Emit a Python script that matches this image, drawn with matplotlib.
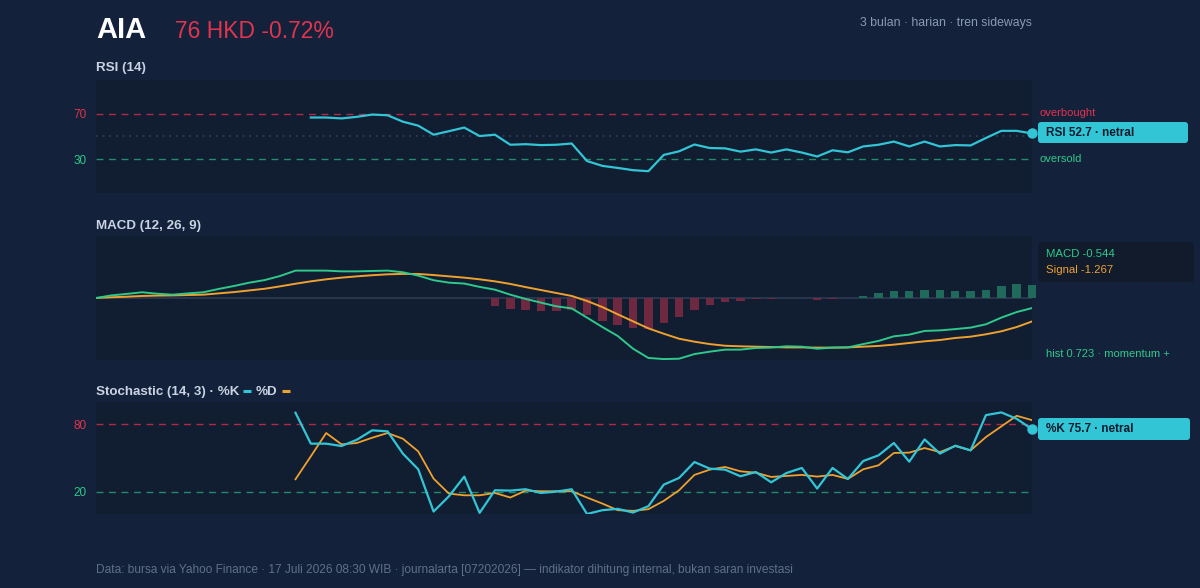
import matplotlib
matplotlib.use("Agg")
import matplotlib.pyplot as plt
import numpy as np
from matplotlib.patches import FancyBboxPatch
from matplotlib.lines import Line2D

plt.rcParams['font.family'] = ['Liberation Sans', 'DejaVu Sans']

# ---------------- data ----------------
ticker = "AIA"
price_text = "76 HKD -0.72%"
subtitle = "3 bulan · harian · tren sideways"
footer = ("Data: bursa via Yahoo Finance · 17 Juli 2026 08:30 WIB · journalarta [07202026] — "
          "indikator dihitung internal, bukan saran investasi")

days = list(range(62))

rsi = [None] * 14 + [66.8, 66.8, 66.0, 67.4, 69.4, 68.8, 63.1, 59.6, 51.6, 54.7,
                     57.9, 50.4, 51.6, 42.7, 43.2, 42.4, 42.7, 43.8, 28.3, 24.0,
                     22.2, 20.2, 19.3, 33.7, 36.9, 42.9, 39.8, 39.5, 36.6, 38.6,
                     35.8, 38.6, 35.8, 32.3, 37.8, 36.0, 41.2, 42.7, 45.5, 41.2,
                     45.5, 41.2, 42.4, 42.1, 48.7, 55.0, 55.0, 52.7]
rsi_levels = [70, 30]

macd = [0.0, 0.14, 0.22, 0.31, 0.23, 0.18, 0.25, 0.31, 0.49, 0.65,
        0.83, 0.97, 1.19, 1.48, 1.48, 1.48, 1.44, 1.44, 1.46, 1.48,
        1.39, 1.21, 0.96, 0.83, 0.78, 0.60, 0.45, 0.18, -0.05, -0.25,
        -0.45, -0.56, -1.06, -1.57, -2.05, -2.74, -3.24, -3.30, -3.28, -3.03,
        -2.90, -2.79, -2.79, -2.70, -2.68, -2.61, -2.63, -2.74, -2.68, -2.67,
        -2.49, -2.32, -2.07, -1.98, -1.78, -1.75, -1.68, -1.60, -1.42, -1.06,
        -0.76, -0.544]
signal = [0.0, 0.04, 0.07, 0.11, 0.13, 0.14, 0.16, 0.18, 0.25, 0.32,
          0.41, 0.50, 0.63, 0.77, 0.90, 1.01, 1.10, 1.17, 1.23, 1.28,
          1.30, 1.30, 1.24, 1.17, 1.10, 1.01, 0.90, 0.76, 0.59, 0.43,
          0.27, 0.11, -0.16, -0.49, -0.88, -1.26, -1.64, -1.93, -2.20, -2.36,
          -2.49, -2.58, -2.61, -2.63, -2.65, -2.67, -2.67, -2.68, -2.68, -2.67,
          -2.63, -2.59, -2.52, -2.43, -2.34, -2.27, -2.16, -2.09, -1.96, -1.80,
          -1.57, -1.267]
hist = [None] * 26 + [-0.43, -0.59, -0.67, -0.70, -0.68, -0.67, -0.94, -1.24, -1.46, -1.62,
                      -1.68, -1.37, -1.05, -0.63, -0.40, -0.22, -0.16, -0.07, -0.05, -0.02,
                      -0.01, -0.09, -0.04, 0.01, 0.11, 0.25, 0.38, 0.38, 0.45, 0.41,
                      0.40, 0.36, 0.45, 0.65, 0.74, 0.723]

stoch_k = [None] * 13 + [90.4, 62.8, 62.8, 60.7, 66.3, 74.7, 73.8, 53.9, 39.9, 2.2,
                         15.8, 33.4, 1.0, 21.2, 20.9, 22.1, 18.8, 20.0, 22.1, 0.0,
                         3.4, 4.6, 1.3, 7.0, 26.2, 32.2, 46.4, 40.5, 39.6, 33.7,
                         37.5, 28.3, 36.6, 41.1, 22.7, 41.1, 31.3, 47.3, 52.4, 63.4,
                         46.7, 66.6, 53.9, 61.0, 56.8, 88.3, 90.7, 85.0, 75.7]
stoch_d = [None] * 13 + [31.0, 51.5, 72.3, 62.2, 63.4, 68.1, 72.3, 67.2, 55.9, 31.6,
                         18.2, 16.7, 16.7, 18.8, 14.7, 20.9, 20.3, 20.3, 20.3, 14.7,
                         9.3, 3.4, 2.8, 4.3, 11.7, 21.2, 34.9, 39.6, 42.0, 38.1,
                         36.9, 33.1, 34.0, 34.9, 33.4, 34.9, 31.3, 39.9, 43.5, 54.5,
                         54.8, 58.9, 55.3, 60.7, 56.8, 68.7, 78.2, 87.7, 83.8]
stoch_levels = [80, 20]

# ---------------- style ----------------
BG = "#14213a"
PANEL = "#111d30"
CYAN = "#32c5d6"
GREEN = "#2ec98b"
ORANGE = "#eea12f"
RED = "#e0344f"
RED_LINE = "#b22a45"
GREEN_LINE = "#248c6c"
TITLE = "#c9d3e3"
MUTED = "#8b9ab3"
FOOT = "#5f7089"

W, H = 1200, 588
fig = plt.figure(figsize=(12, 5.88), dpi=100, facecolor=BG)

X0, X1 = 96, 1032


def panel(y_top, y_bot):
    ax = fig.add_axes([X0 / W, 1 - y_bot / H, (X1 - X0) / W, (y_bot - y_top) / H])
    ax.set_facecolor(PANEL)
    for s in ax.spines.values():
        s.set_visible(False)
    ax.set_xlim(days[0], days[-1])
    ax.tick_params(axis='x', bottom=False, labelbottom=False)
    ax.tick_params(axis='y', left=False, length=0, labelsize=8.5, pad=7)
    return ax


def arr(v):
    return np.array([np.nan if a is None else a for a in v], dtype=float)


x = np.array(days)

# RSI
ax1 = panel(80, 193)
ax1.set_ylim(0, 100)
ax1.axhline(rsi_levels[0], color=RED_LINE, lw=1, ls=(0, (5, 4)))
ax1.axhline(rsi_levels[1], color=GREEN_LINE, lw=1, ls=(0, (5, 4)))
ax1.axhline(50, color="#34425a", lw=1.2, ls=(0, (1, 3)))
r = arr(rsi)
ax1.plot(x, r, color=CYAN, lw=1.6)
ax1.plot([x[-1]], [r[-1]], 'o', color=CYAN, ms=6.5, clip_on=False)
ax1.set_yticks(rsi_levels)
ax1.set_yticklabels([str(v) for v in rsi_levels])
ax1.get_yticklabels()[0].set_color(RED)
ax1.get_yticklabels()[1].set_color(GREEN)

# MACD
ax2 = panel(236, 360)
ax2.set_ylim(-3.35, 3.35)
ax2.axhline(0, color="#2d3a52", lw=1.2)
h = arr(hist)
cols = ["#6e2940" if (not np.isnan(v) and v < 0) else "#1f6a5a" for v in h]
ax2.bar(x, np.nan_to_num(h), width=0.55, color=cols, clip_on=False, zorder=2)
ax2.plot(x, arr(signal), color=ORANGE, lw=1.4, zorder=3)
ax2.plot(x, arr(macd), color=GREEN, lw=1.4, zorder=4)
ax2.set_yticks([])

# Stochastic
ax3 = panel(402, 514)
ax3.set_ylim(0, 100)
ax3.axhline(stoch_levels[0], color=RED_LINE, lw=1, ls=(0, (5, 4)))
ax3.axhline(stoch_levels[1], color=GREEN_LINE, lw=1, ls=(0, (5, 4)))
ax3.plot(x, arr(stoch_d), color=ORANGE, lw=1.3)
k = arr(stoch_k)
ax3.plot(x, k, color=CYAN, lw=1.6)
ax3.plot([x[-1]], [k[-1]], 'o', color=CYAN, ms=6.5, clip_on=False)
ax3.set_yticks(stoch_levels)
ax3.set_yticklabels([str(v) for v in stoch_levels])
ax3.get_yticklabels()[0].set_color(RED)
ax3.get_yticklabels()[1].set_color(GREEN)

# ---------------- overlay texts ----------------
ov = fig.add_axes([0, 0, 1, 1], facecolor='none', zorder=10)
ov.set_xlim(0, W)
ov.set_ylim(H, 0)
ov.axis('off')

ov.text(96, 38, ticker, color="white", fontsize=21, fontweight='bold', va='baseline')
ov.text(175, 38, price_text, color=RED, fontsize=16.5, va='baseline')
ov.text(1032, 26, subtitle, color=MUTED, fontsize=8.8, ha='right', va='baseline')

TS = 9.6
ov.text(96, 71, "RSI (14)", color=TITLE, fontsize=TS, fontweight='bold', va='baseline')
ov.text(96, 229, "MACD (12, 26, 9)", color=TITLE, fontsize=TS, fontweight='bold', va='baseline')
t = ov.text(96, 395, "Stochastic (14, 3) · %K", color=TITLE, fontsize=TS, fontweight='bold',
            va='baseline')
fig.canvas.draw()
inv = ov.transData.inverted()
bb = t.get_window_extent()
xe = inv.transform((bb.x1, bb.y0))[0]
ov.add_line(Line2D([xe + 4, xe + 12], [391, 391], color=CYAN, lw=2.2, solid_capstyle='butt'))
t2 = ov.text(xe + 16, 395, "%D", color=TITLE, fontsize=TS, fontweight='bold', va='baseline')
fig.canvas.draw()
bb2 = t2.get_window_extent()
xe2 = inv.transform((bb2.x1, bb2.y0))[0]
ov.add_line(Line2D([xe2 + 5, xe2 + 13], [391, 391], color=ORANGE, lw=2.2, solid_capstyle='butt'))

ov.text(96, 573, footer, color=FOOT, fontsize=8.6, va='baseline')

# right side labels
ov.text(1040, 113, "overbought", color=RED, fontsize=8, va='center')
ov.text(1040, 159, "oversold", color=GREEN, fontsize=8, va='center')


def badge(x0, y0, x1, y1, fc):
    p = FancyBboxPatch((x0, y0), x1 - x0, y1 - y0,
                       boxstyle="round,pad=0,rounding_size=3", fc=fc, ec='none')
    ov.add_patch(p)


badge(1038, 122, 1188, 143, CYAN)
ov.text(1046, 132.5, f"RSI {rsi[-1]} · netral", color="#0f1b2d", fontsize=8.5,
        fontweight='bold', va='center')

badge(1038, 242, 1194, 282, "#111b2b")
ov.text(1046, 254, f"MACD {macd[-1]}", color=GREEN, fontsize=8.2, va='center')
ov.text(1046, 270, f"Signal {signal[-1]}", color=ORANGE, fontsize=8.2, va='center')
ov.text(1046, 354, f"hist {hist[-1]} · momentum +", color=GREEN, fontsize=8, va='center')

badge(1038, 418, 1190, 440, CYAN)
ov.text(1046, 429, f"%K {stoch_k[-1]} · netral", color="#0f1b2d", fontsize=8.5,
        fontweight='bold', va='center')

fig.savefig("out.png", dpi=100, facecolor=BG)
